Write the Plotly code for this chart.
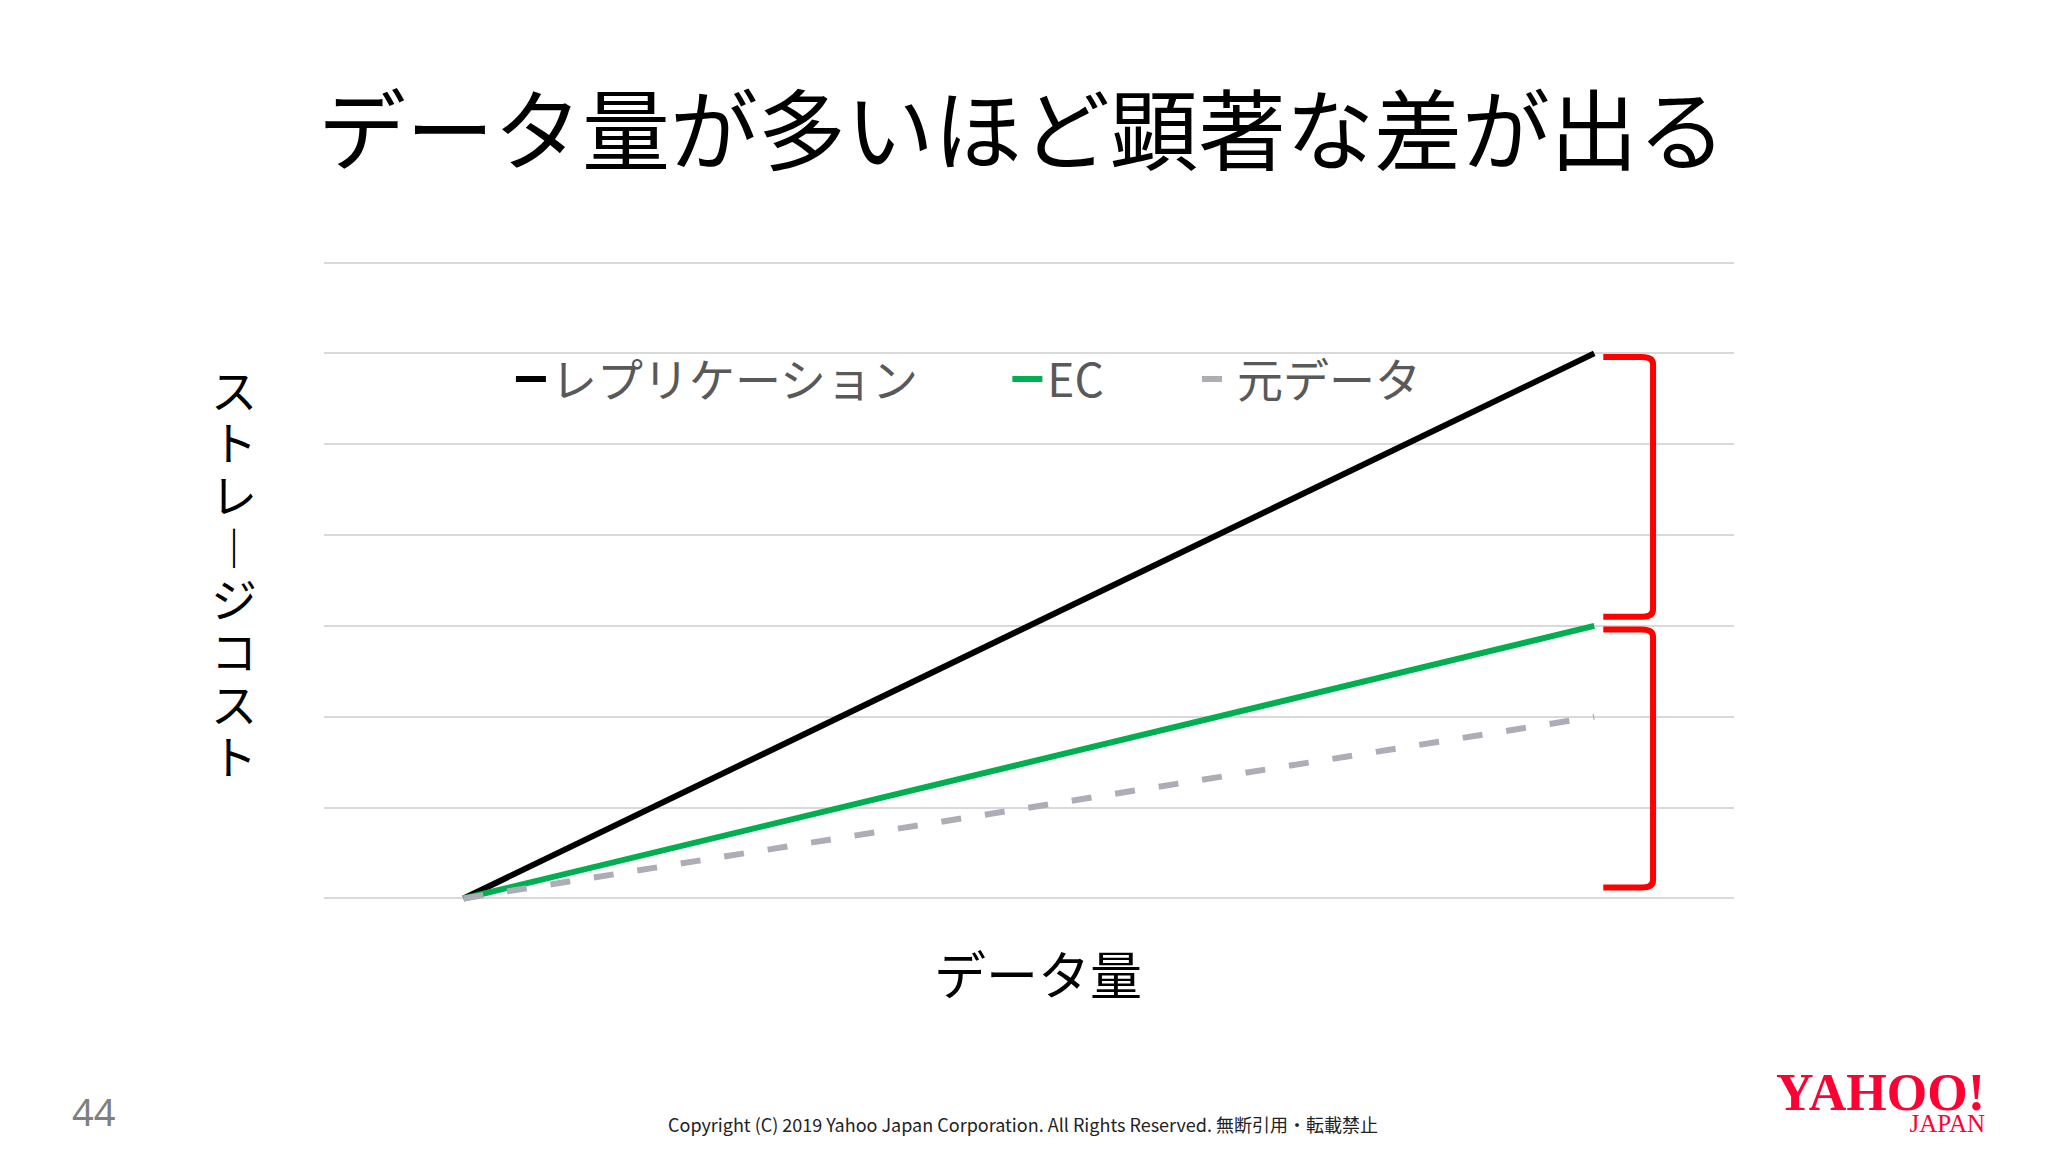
import plotly.graph_objects as go

# ---- data ----
x_points = [0, 1]
series_names = ["レプリケーション", "EC", "元データ"]
replication = [0, 6]
ec = [0, 3]
original = [0, 2]
y_ticks = [0, 1, 2, 3, 4, 5, 6, 7]

title_text = "データ量が多いほど顕著な差が出る"
x_title = "データ量"
y_title = "ストレ︱ジコスト"
page_no = "44"
copyright_text = "Copyright (C) 2019 Yahoo Japan Corporation. All Rights Reserved. 無断引用・転載禁止"

JP = "Noto Sans CJK JP"
OFF = 8                      # browser body margin
W, H = 2048 - 2 * OFF, 1152 - 2 * OFF

# plot area in page pixels
PX0, PX1 = 324, 1734.5
PY7, PY0 = 262.5, 898.6
YMIN, YMAX = -0.05, 7.05
unit = (PY0 - PY7) / 7.0
L = PX0 - OFF
R = W - (PX1 - OFF)
T = PY7 - OFF - (YMAX - 7) * unit
B = H - (PY0 - OFF + (0 - YMIN) * unit)
PW, PH = W - L - R, H - T - B


def px(xp):   # page x -> paper
    return (xp - OFF - L) / PW


def py(yp):   # page y -> paper
    return (H - B - (yp - OFF)) / PH


pad1 = "\u3000\u2002\u2004"
pad2 = "\u3000\u2002\u2005\u2006"
fig = go.Figure()
fig.add_trace(go.Scatter(x=x_points, y=replication, name=series_names[0] + pad1, mode="lines",
                         line=dict(color="#000000", width=6)))
fig.add_trace(go.Scatter(x=x_points, y=ec, name=series_names[1] + pad2, mode="lines",
                         line=dict(color="#00b050", width=6)))
fig.add_trace(go.Scatter(x=x_points, y=original, name=series_names[2], mode="lines",
                         line=dict(color="#adadb8", width=6, dash="20px,24px")))

# red brackets derived from series end values
xb0, xb1 = 1.008, 1.052


def bracket(ytop, ybot):
    r = 0.01
    return (f"M {xb0},{ytop} L {xb1 - r},{ytop} Q {xb1},{ytop} {xb1},{ytop - 0.08} "
            f"L {xb1},{ybot + 0.08} Q {xb1},{ybot} {xb1 - r},{ybot} L {xb0},{ybot}")


shapes = [
    dict(type="path", path=bracket(replication[-1] - 0.04, ec[-1] + 0.1), xref="x", yref="y",
         line=dict(color="#ff0000", width=6)),
    dict(type="path", path=bracket(ec[-1] - 0.04, original[0] + 0.12), xref="x", yref="y",
         line=dict(color="#ff0000", width=6)),
]

annotations = []
annotations.append(dict(text=title_text, xref="paper", yref="paper",
                        x=px(1022), y=py(124), xanchor="center", yanchor="middle",
                        showarrow=False, font=dict(family=JP, size=88, color="#000000")))
annotations.append(dict(text=x_title, xref="paper", yref="paper",
                        x=px(1038), y=py(973), xanchor="center", yanchor="middle",
                        showarrow=False, font=dict(family=JP, size=52, color="#000000")))
# vertical y-axis title, one upright glyph per row
for i, ch in enumerate(y_title):
    annotations.append(dict(text=ch, xref="paper", yref="paper",
                            x=px(234), y=py(388 + i * 52.3), xanchor="center", yanchor="middle",
                            showarrow=False, font=dict(family=JP, size=46, color="#000000")))
annotations.append(dict(text=page_no, xref="paper", yref="paper",
                        x=px(93), y=py(1111), xanchor="center", yanchor="middle",
                        showarrow=False, font=dict(family="Noto Sans", size=38, color="#7f7f7f")))
annotations.append(dict(text=copyright_text, xref="paper", yref="paper",
                        x=px(1023), y=py(1124), xanchor="center", yanchor="middle",
                        showarrow=False, font=dict(family=JP, size=18, color="#222222")))
annotations.append(dict(text="<span style='font-size:52px'><b>YAHOO!</b></span><br>"
                             "<span style='font-size:25px'>JAPAN</span>",
                        xref="paper", yref="paper", x=px(1988), y=py(1101),
                        xanchor="right", yanchor="middle", align="right", showarrow=False,
                        font=dict(family="Liberation Serif", size=17, color="#ff0033")))

fig.update_layout(
    width=W, height=H,
    margin=dict(l=L, r=R, t=T, b=B),
    paper_bgcolor="#ffffff", plot_bgcolor="#ffffff",
    showlegend=True,
    legend=dict(orientation="h", x=px(511), y=py(379), xanchor="left", yanchor="middle",
                bgcolor="rgba(0,0,0,0)",
                font=dict(family=JP, size=46, color="#595959")),
    xaxis=dict(range=[-0.1234, 1.1236], showgrid=False, zeroline=False, showline=False,
               showticklabels=False, ticks=""),
    yaxis=dict(range=[YMIN, YMAX], tickvals=y_ticks, showgrid=True, gridcolor="#d9d9d9",
               gridwidth=2, zeroline=False, showline=False, showticklabels=False, ticks=""),
    shapes=shapes,
    annotations=annotations,
)

fig.write_html("out.html")
